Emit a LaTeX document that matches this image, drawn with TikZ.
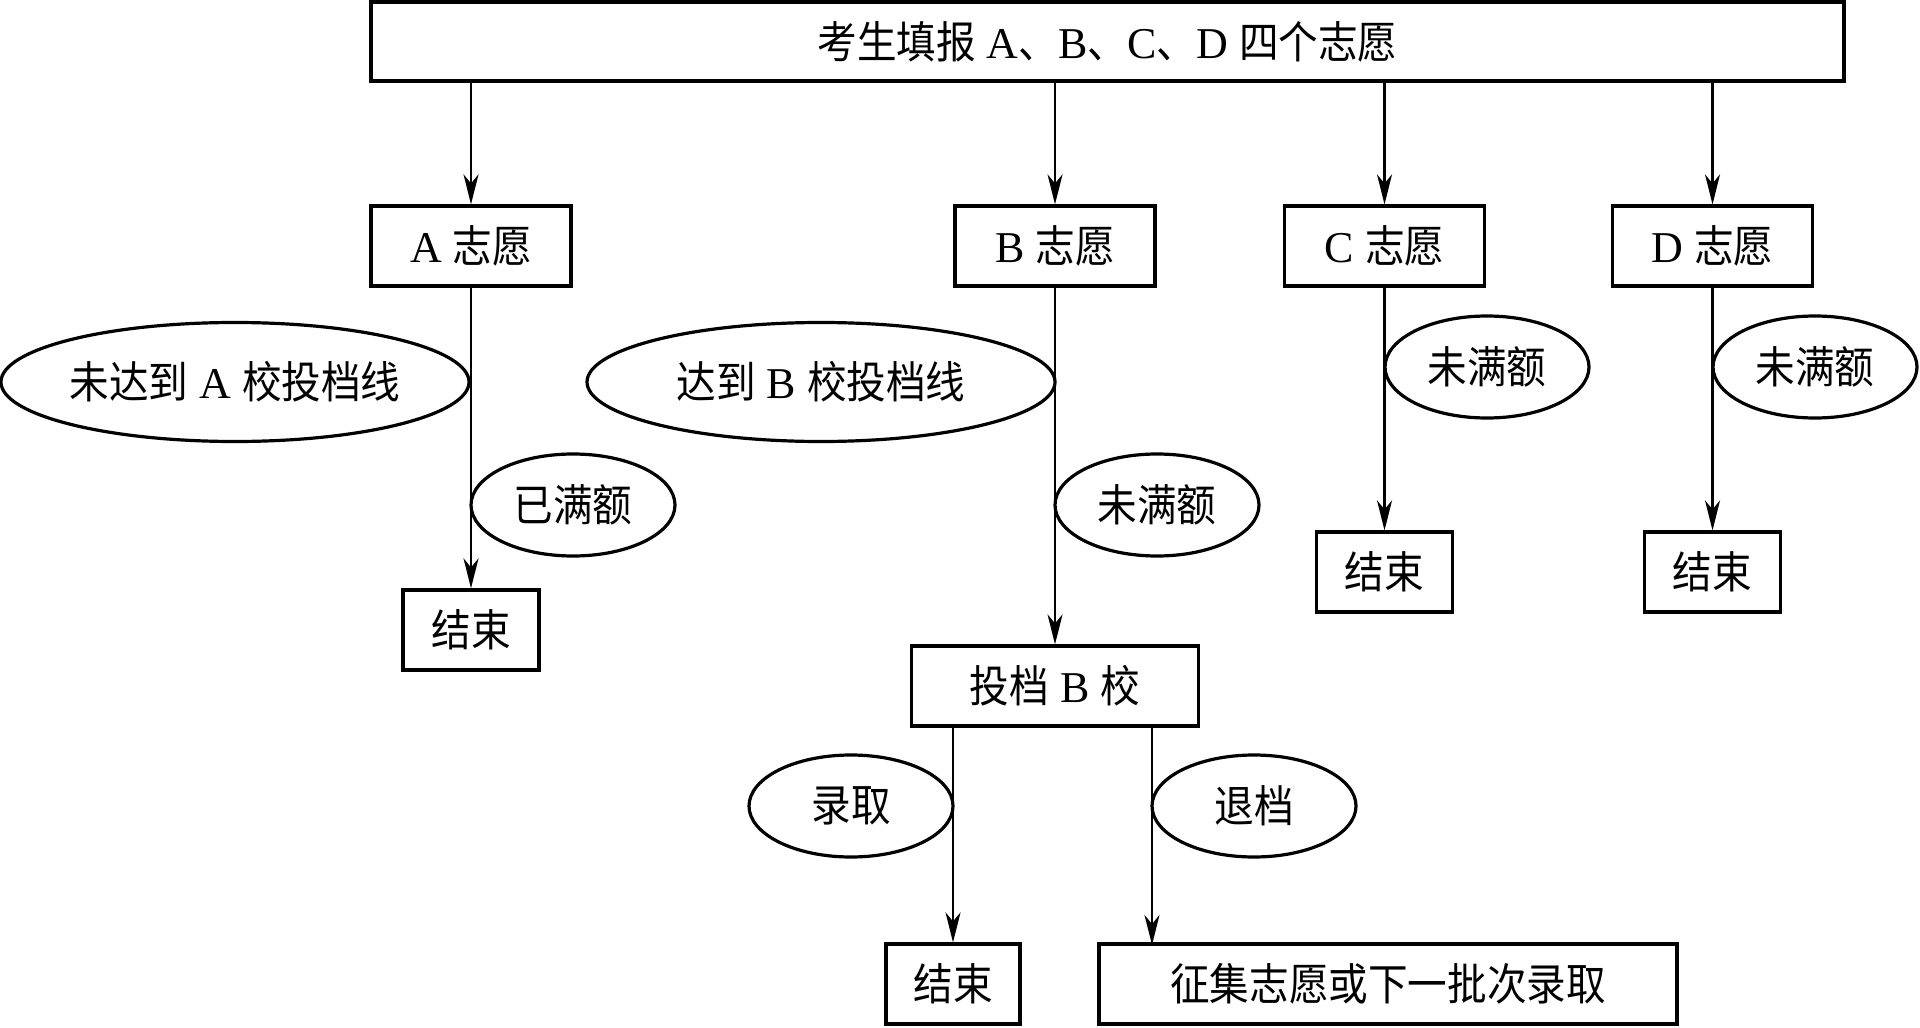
\documentclass[tikz,border=0pt]{standalone}
\usepackage{fontspec}
\setmainfont{Liberation Serif}
\newfontfamily\cjk[FakeStretch=0.9]{Noto Sans CJK SC}
\usetikzlibrary{shapes.geometric,arrows.meta}
\tikzset{
  box/.style={draw, line width=1.6pt, rectangle, inner sep=0pt, minimum height=40pt, font=\fontsize{22}{26}\selectfont},
  oval/.style={draw, line width=1.6pt, ellipse, inner sep=0pt, minimum width=102pt, minimum height=51pt, font=\fontsize{22}{26}\selectfont},
  arr/.style={line width=1.2pt, -{Stealth[length=15pt,width=7.5pt,inset=4.5pt]}},
}
\begin{document}
\begin{tikzpicture}[x=0.5pt,y=-0.5pt]
\useasboundingbox (0,0) rectangle (1920,1027);
% top
\node[box, minimum width=736.5pt, minimum height=39.5pt] (top) at (1107.5,41.5) {{\cjk 考生填报} A{\cjk 、}B{\cjk 、}C{\cjk 、}D {\cjk 四个志愿}};
% second row
\node[box, minimum width=100pt] (A) at (471,246) {A {\cjk 志愿}};
\node[box, minimum width=100pt] (B) at (1055,246) {B {\cjk 志愿}};
\node[box, minimum width=100pt] (C) at (1384.5,246) {C {\cjk 志愿}};
\node[box, minimum width=100pt] (D) at (1712.5,246) {D {\cjk 志愿}};
% end boxes
\node[box, minimum width=68pt] (endA) at (471,630) {\cjk 结束};
\node[box, minimum width=68pt] (endC) at (1384.5,572) {\cjk 结束};
\node[box, minimum width=68pt] (endD) at (1712.5,572) {\cjk 结束};
\node[box, minimum width=143.5pt] (tdB) at (1055,686) {{\cjk 投档} B {\cjk 校}};
\node[box, minimum width=67pt] (endB) at (953,984) {\cjk 结束};
\node[box, minimum width=289pt] (zj) at (1388,984) {\cjk 征集志愿或下一批次录取};
% ellipses
\node[oval, minimum width=234pt, minimum height=59.5pt] (eA) at (235,382) {{\cjk 未达到} A {\cjk 校投档线}};
\node[oval, minimum width=234pt, minimum height=59.5pt] (eB) at (821,382) {{\cjk 达到} B {\cjk 校投档线}};
\node[oval] (fA) at (573,505) {\cjk 已满额};
\node[oval] (nB) at (1157,505) {\cjk 未满额};
\node[oval] (nC) at (1487,367) {\cjk 未满额};
\node[oval] (nD) at (1815,367) {\cjk 未满额};
\node[oval] (lq) at (851,806) {\cjk 录取};
\node[oval] (td) at (1254,806) {\cjk 退档};
% connectors
\draw[arr] (top.south -| A.north) -- (A.north);
\draw[arr] (top.south -| B.north) -- (B.north);
\draw[arr] (top.south -| C.north) -- (C.north);
\draw[arr] (top.south -| D.north) -- (D.north);
\draw[arr] (A.south) -- (endA.north);
\draw[arr] (B.south) -- (tdB.north);
\draw[arr] (C.south) -- (endC.north);
\draw[arr] (D.south) -- (endD.north);
\draw[arr] (endB.north |- tdB.south) -- (endB.north);
\coordinate (zjin) at (1152,945);
\draw[arr] (zjin |- tdB.south) -- (zjin);
\end{tikzpicture}
\end{document}
